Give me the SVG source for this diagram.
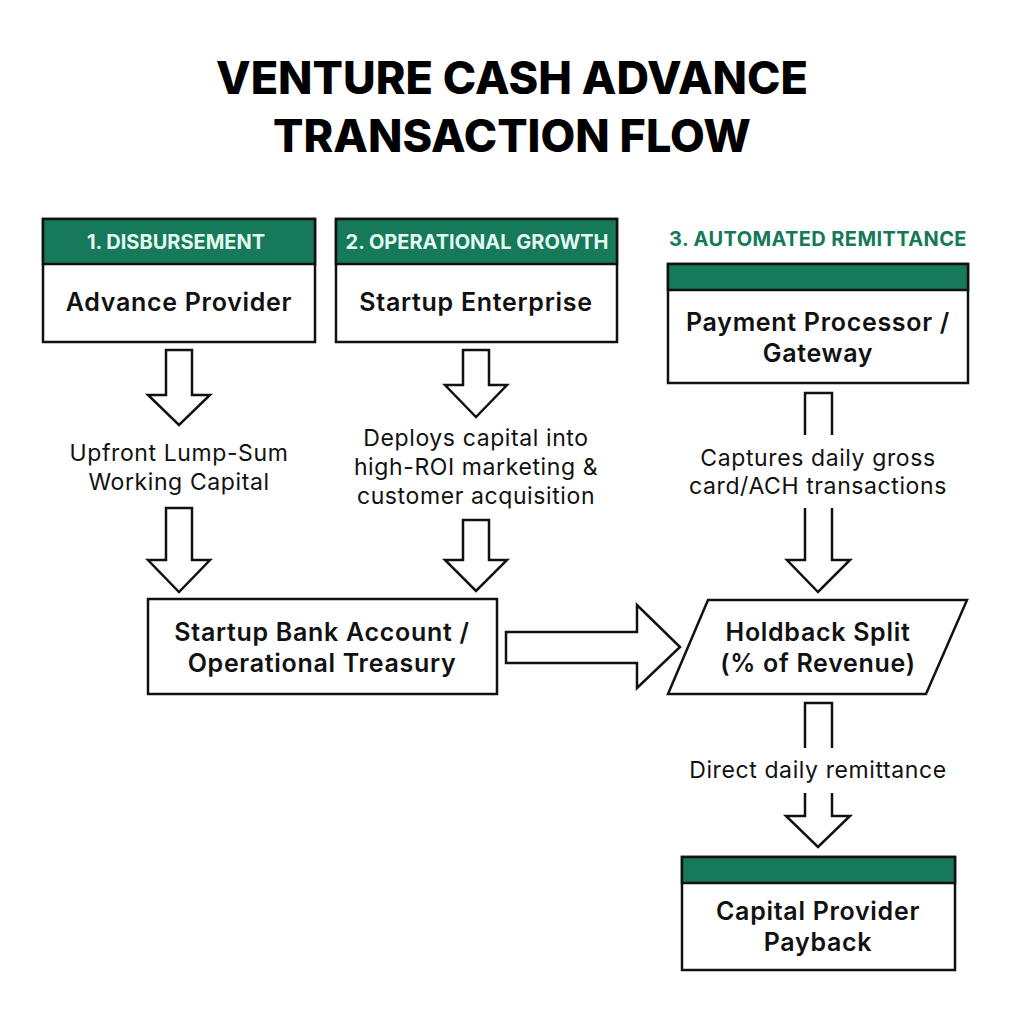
<svg xmlns="http://www.w3.org/2000/svg" width="1024" height="1024" viewBox="0 0 1024 1024">
<style>
.title{font-family:Inter,"Noto Sans",sans-serif;font-weight:800;font-size:45px;fill:#000;text-anchor:middle}
.box{fill:#fff;stroke:#111;stroke-width:2.5}
.hdr{fill:#15795a;stroke:#111;stroke-width:2.5}
.htxt{font-family:Inter,"Noto Sans",sans-serif;font-weight:700;font-size:20px;fill:#e3f8ef;text-anchor:middle}
.sec{font-family:Inter,"Noto Sans",sans-serif;font-weight:700;font-size:20px;letter-spacing:0.4px;fill:#15795a;text-anchor:middle}
.btxt{font-family:Inter,"Noto Sans",sans-serif;font-weight:600;font-size:25px;letter-spacing:0.7px;fill:#111;text-anchor:middle}
.lbl{font-family:Inter,"Noto Sans",sans-serif;font-weight:400;font-size:23px;letter-spacing:0.6px;fill:#111;text-anchor:middle}
.arr{fill:#fff;stroke:#111;stroke-width:2.5;stroke-linejoin:miter}
.open{fill:none;stroke:#111;stroke-width:2.5}
</style>
<rect width="1024" height="1024" fill="#fff"/>
<text class="title" x="512" y="94">VENTURE CASH ADVANCE</text>
<text class="title" x="512" y="152">TRANSACTION FLOW</text>

<g id="connectors">
  <polygon class="arr" points="166,350 192,350 192,395 210,395 179,425 148,395 166,395"/>
  <polygon class="arr" points="166,508 192,508 192,560 210,560 179,592 148,560 166,560"/>
  <polygon class="arr" points="463,350 489,350 489,385 507,385 476,417 445,385 463,385"/>
  <polygon class="arr" points="463,520 489,520 489,560 507,560 476,591 445,560 463,560"/>
  <polygon class="arr" points="506,632 637,632 637,605 680,647 637,688 637,663 506,663"/>
  <path class="open" d="M805,435 V393 H832 V435"/>
  <path class="arr" d="M805,508 V560 H787 L818,592 L850,560 H832 V508"/>
  <path class="open" d="M805,748 V703 H832 V748"/>
  <path class="arr" d="M805,793 V816 H786 L818,847 L850,816 H832 V793"/>
  <text class="lbl" x="179" y="461">Upfront Lump-Sum</text>
  <text class="lbl" x="179" y="490">Working Capital</text>
  <text class="lbl" x="476" y="446">Deploys capital into</text>
  <text class="lbl" x="476" y="475">high-ROI marketing &amp;</text>
  <text class="lbl" x="476" y="504">customer acquisition</text>
  <text class="lbl" x="818" y="466">Captures daily gross</text>
  <text class="lbl" x="818" y="494">card/ACH transactions</text>
  <text class="lbl" x="818" y="778">Direct daily remittance</text>
</g>

<g id="advance-provider">
  <rect class="box" x="43" y="219" width="272" height="123"/>
  <rect class="hdr" x="43" y="219" width="272" height="45"/>
  <text class="htxt" x="176" y="249">1. DISBURSEMENT</text>
  <text class="btxt" x="179" y="311">Advance Provider</text>
</g>

<g id="startup-enterprise">
  <rect class="box" x="336" y="219" width="281" height="123"/>
  <rect class="hdr" x="336" y="219" width="281" height="45"/>
  <text class="htxt" x="477" y="249">2. OPERATIONAL GROWTH</text>
  <text class="btxt" x="476" y="311">Startup Enterprise</text>
</g>

<g id="payment-processor">
  <text class="sec" x="818" y="246">3. AUTOMATED REMITTANCE</text>
  <rect class="box" x="668" y="264" width="300" height="119"/>
  <rect class="hdr" x="668" y="264" width="300" height="26"/>
  <text class="btxt" x="818" y="331">Payment Processor /</text>
  <text class="btxt" x="818" y="362">Gateway</text>
</g>

<g id="bank-account">
  <rect class="box" x="148" y="599" width="349" height="95"/>
  <text class="btxt" x="322" y="641">Startup Bank Account /</text>
  <text class="btxt" x="322" y="672">Operational Treasury</text>
</g>

<g id="holdback-split">
  <polygon class="box" points="708,600 967,600 926,694 668,694"/>
  <text class="btxt" x="818" y="641">Holdback Split</text>
  <text class="btxt" x="818" y="672">(% of Revenue)</text>
</g>

<g id="capital-provider">
  <rect class="box" x="682" y="857" width="273" height="113"/>
  <rect class="hdr" x="682" y="857" width="273" height="26"/>
  <text class="btxt" x="818" y="920">Capital Provider</text>
  <text class="btxt" x="818" y="951">Payback</text>
</g>
</svg>
